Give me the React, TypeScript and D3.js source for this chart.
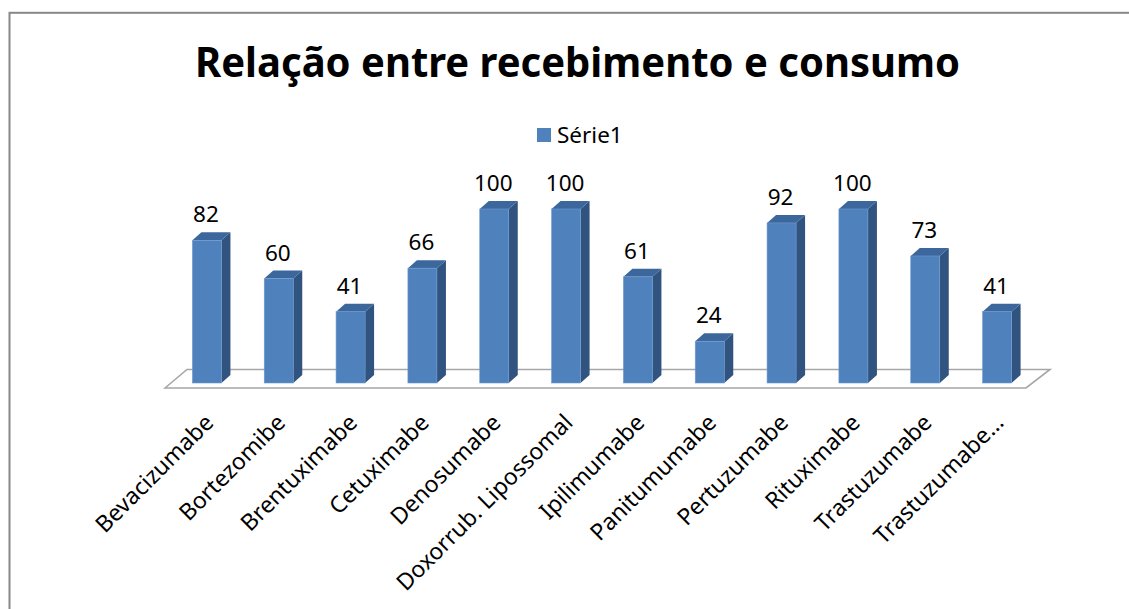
import React from "react";
import * as d3 from "d3";

const title = "Relação entre recebimento e consumo";
const seriesName = "Série1";
const categories = [
  "Bevacizumabe",
  "Bortezomibe",
  "Brentuximabe",
  "Cetuximabe",
  "Denosumabe",
  "Doxorrub. Lipossomal",
  "Ipilimumabe",
  "Panitumumabe",
  "Pertuzumabe",
  "Rituximabe",
  "Trastuzumabe",
  "Trastuzumabe…",
];
const values = [82, 60, 41, 66, 100, 100, 61, 24, 92, 100, 73, 41];

const W = 1129;
const H = 609;
const FONT = "'Noto Sans', 'Open Sans', sans-serif";
const FRONT = "#4F81BD";
const TOP = "#3C679C";
const SIDE = "#30537F";
const DX = 9;
const DY = -8;

export default function App() {
  const baseY = 383;
  const x = d3
    .scaleBand<string>()
    .domain(categories)
    .range([171, 1033])
    .paddingInner(0.596)
    .paddingOuter(0.298);
  const y = d3.scaleLinear().domain([0, 100]).range([baseY, 209]);
  const bw = x.bandwidth();

  const floor = [
    [165, 388],
    [187, 369.5],
    [1050, 369.5],
    [1026, 388],
  ];

  return (
    <svg
      width={W}
      height={H}
      style={{ position: "absolute", left: 0, top: 0, background: "#fff" }}
    >
      <rect x={0} y={0} width={W} height={H} fill="#fff" />
      <rect
        x={9.5}
        y={12.8}
        width={1300}
        height={800}
        fill="none"
        stroke="#888"
        strokeWidth={2}
      />
      <text
        x={577.5}
        y={77}
        textAnchor="middle"
        fontFamily={FONT}
        fontWeight="bold"
        fontSize={41}
        textLength={765}
        lengthAdjust="spacingAndGlyphs"
        fill="#000"
      >
        {title}
      </text>
      <rect x={537} y={128} width={14} height={14} fill={FRONT} />
      <text x={557} y={143} fontFamily={FONT} fontSize={22.5} fill="#000">
        {seriesName}
      </text>
      <polygon
        points={floor.map((p) => p.join(",")).join(" ")}
        fill="#fff"
        stroke="#a6a6a6"
        strokeWidth={1.6}
      />
      {categories.map((c, i) => {
        const x0 = x(c)!;
        const x1 = x0 + bw;
        const yt = y(values[i]);
        const cx = x0 + bw / 2;
        return (
          <g key={c}>
            <polygon
              points={`${x1},${yt} ${x1 + DX},${yt + DY} ${x1 + DX},${baseY + DY} ${x1},${baseY}`}
              fill={SIDE}
            />
            <polygon
              points={`${x0},${yt} ${x0 + DX},${yt + DY} ${x1 + DX},${yt + DY} ${x1},${yt}`}
              fill={TOP}
            />
            <rect
              x={x0}
              y={yt}
              width={bw}
              height={baseY - yt}
              fill={FRONT}
              stroke="#6f9ad0"
              strokeWidth={0.6}
            />
            <text
              x={cx - 1}
              y={yt - 18}
              textAnchor="middle"
              fontFamily={FONT}
              fontSize={22.5}
              fill="#000"
            >
              {values[i]}
            </text>
            <text
              transform={`translate(${cx + 8},${424}) rotate(-45)`}
              textAnchor="end"
              fontFamily={FONT}
              fontSize={23}
              fill="#000"
            >
              {c}
            </text>
          </g>
        );
      })}
    </svg>
  );
}
